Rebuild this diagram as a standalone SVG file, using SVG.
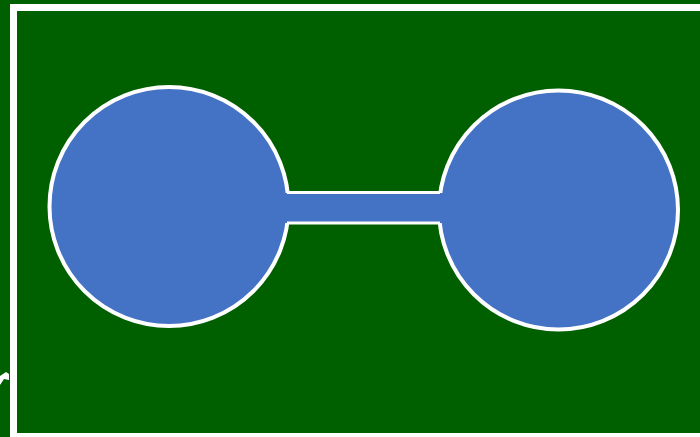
<svg xmlns="http://www.w3.org/2000/svg" width="700" height="437" viewBox="0 0 700 437">
<style>
.node{fill:#4472C4;stroke:#ffffff;stroke-width:4}
.edge{stroke:#ffffff;stroke-width:3}
</style>
<rect x="0" y="0" width="700" height="437" fill="#006000"/>
<rect x="13.5" y="7.5" width="700" height="429" fill="none" stroke="#ffffff" stroke-width="7"/>
<polygon points="0,376 6,372 9,374 9,380 4,379 0,385" fill="#ffffff"/>
<g id="node-left"><circle class="node" cx="169" cy="206.5" r="119.5"/></g>
<g id="node-right"><circle class="node" cx="558.5" cy="210" r="119.5"/></g>
<g id="connectors">
<rect x="282" y="193" width="162" height="30" fill="#4472C4"/>
<line class="edge" x1="287" y1="192.5" x2="440" y2="192.5"/>
<line class="edge" x1="287" y1="223" x2="440" y2="223"/>
</g>
</svg>
